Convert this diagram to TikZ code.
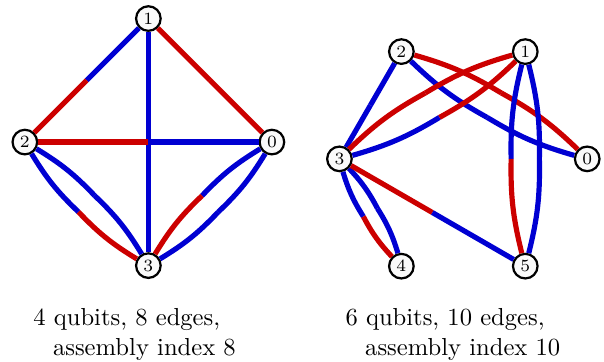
\documentclass[tikz,border=0pt]{standalone}
\usepackage{tikz}
\usetikzlibrary{calc}
\definecolor{edgeblue}{RGB}{0,0,210}
\definecolor{edgered}{RGB}{204,0,0}

% two-coloured edge: #1 from, #2 to, #3 bend (deg), #4 colour at #1, #5 colour at #2
\newcommand{\splitedge}[5]{%
  \pgfmathsetmacro{\bendout}{#3/2}%
  \pgfmathsetmacro{\bendin}{180-#3/2}%
  \coordinate (mid) at ($(#1)!0.5!(#2)!{tan(#3/2)}!90:(#2)$);%
  \draw[edge,#4] (#1) to[out=\bendout,in=\bendin,relative] (mid);%
  \draw[edge,#5] (mid) to[out=\bendout,in=\bendin,relative] (#2);%
}

\begin{document}
\begin{tikzpicture}[
    qubit/.style={circle,draw,line width=0.9pt,fill=gray!4,minimum size=10pt,inner sep=0pt,font=\scriptsize},
    edge/.style={line width=2.1pt},
    caption/.style={align=left,inner sep=0pt,anchor=north west}]
    \useasboundingbox (0,0) rectangle (8.63,-5.17);

    % Left graph: 4 qubits
    \begin{scope}[shift={(2.12,-2.03)}]
        \foreach \i in {0,...,3}
            \node[qubit] (a\i) at (90*\i:1.765) {\i};
    \end{scope}
    \splitedge{a1}{a2}{0}{edgeblue}{edgered}
    \splitedge{a1}{a0}{0}{edgered}{edgered}
    \splitedge{a1}{a3}{0}{edgeblue}{edgeblue}
    \splitedge{a2}{a0}{0}{edgered}{edgeblue}
    \splitedge{a2}{a3}{-15}{edgeblue}{edgered}
    \splitedge{a2}{a3}{15}{edgeblue}{edgeblue}
    \splitedge{a0}{a3}{15}{edgeblue}{edgeblue}
    \splitedge{a0}{a3}{-15}{edgeblue}{edgered}

    % Right graph: 6 qubits
    \begin{scope}[shift={(6.62,-2.27)}]
        \foreach \i in {0,...,5}
            \node[qubit] (b\i) at (60*\i:1.77) {\i};
    \end{scope}
    \splitedge{b2}{b3}{0}{edgeblue}{edgeblue}
    \splitedge{b2}{b0}{15}{edgered}{edgered}
    \splitedge{b2}{b0}{-15}{edgeblue}{edgeblue}
    \splitedge{b1}{b3}{15}{edgered}{edgeblue}
    \splitedge{b1}{b3}{-15}{edgered}{edgered}
    \splitedge{b1}{b5}{15}{edgeblue}{edgeblue}
    \splitedge{b1}{b5}{-15}{edgeblue}{edgered}
    \splitedge{b3}{b4}{15}{edgeblue}{edgeblue}
    \splitedge{b3}{b4}{-15}{edgeblue}{edgered}
    \splitedge{b3}{b5}{0}{edgered}{edgeblue}

    % Captions
    \node[caption] (capA) at (0.47,-4.40) {4 qubits, 8 edges,\\\hspace*{0.8em}assembly index 8};
    \node[caption] (capB) at (4.93,-4.40) {6 qubits, 10 edges,\\\hspace*{0.8em}assembly index 10};
\end{tikzpicture}
\end{document}
